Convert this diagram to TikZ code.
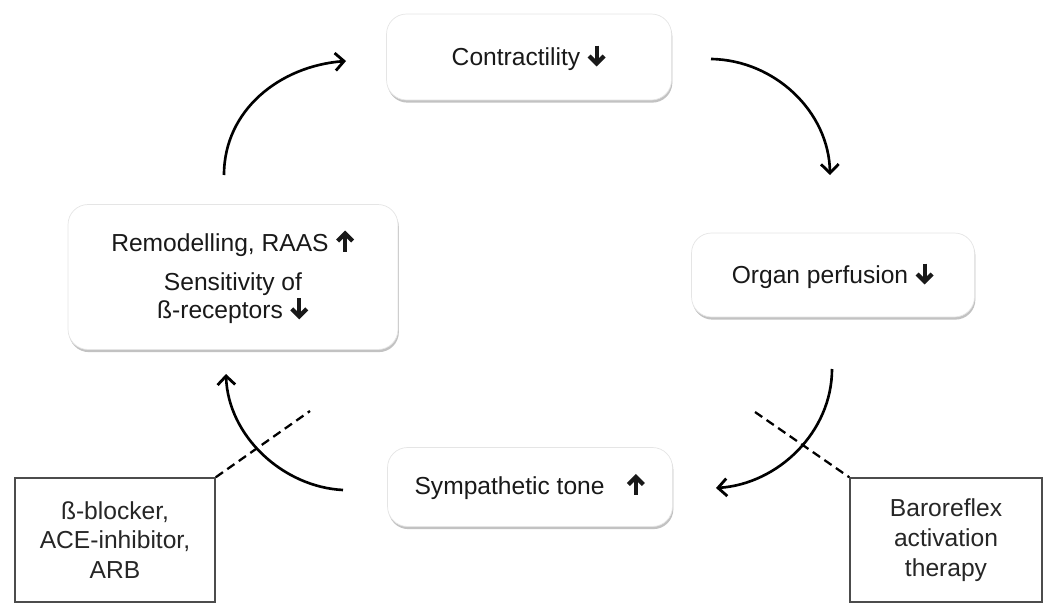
\documentclass[tikz,border=0pt]{standalone}
\usepackage{fontspec}
\setmainfont{Liberation Sans}
\usetikzlibrary{arrows.meta,shadows}

\tikzset{
  glyph/.style={sharp corners, x=1cm, y=1cm, baseline=0.02cm},
  rbox/.style={rounded corners=0.4cm, fill=white, draw=black!10, line width=0.4pt,
    drop shadow={shadow xshift=0.5pt, shadow yshift=-1.5pt, fill=black!40, opacity=0.6},
    font=\fontsize{14}{16}\selectfont, align=center, inner sep=0pt, text=black!90},
  tbox/.style={draw=black!70, line width=0.9pt, fill=white, inner sep=0pt,
    font=\fontsize{14}{17}\selectfont, align=center, text=black!85},
  flow/.style={line width=1.5pt, -{Straight Barb[length=5pt,width=10pt,line width=1.6pt]}},
  cut/.style={line width=1.3pt, dash pattern=on 5pt off 3pt}
}
\newcommand{\dnArw}{\tikz[glyph]{\draw[line width=2.4pt] (0,0.42)--(0,0.08); \draw[line width=2.4pt,line join=miter,miter limit=10] (-0.15,0.21)--(0,0.06)--(0.15,0.21); \useasboundingbox (-0.19,0) rectangle (0.19,0.44);}}
\newcommand{\upArw}{\tikz[glyph]{\draw[line width=2.4pt] (0,0.02)--(0,0.36); \draw[line width=2.4pt,line join=miter,miter limit=10] (-0.15,0.23)--(0,0.38)--(0.15,0.23); \useasboundingbox (-0.19,0) rectangle (0.19,0.44);}}

\begin{document}
\begin{tikzpicture}[x=0.02cm,y=-0.02cm]
\useasboundingbox (0,0) rectangle (1050,605);

\node[rbox, minimum width=5.7cm, minimum height=1.72cm] (con) at (529,57) {Contractility \dnArw};
\node[rbox, minimum width=6.6cm, minimum height=2.9cm] (rem) at (233,277)
  {Remodelling, RAAS \upArw\\[6pt] Sensitivity of\\ ß-receptors \dnArw};
\node[rbox, minimum width=5.66cm, minimum height=1.68cm] (org) at (833,275) {Organ perfusion \dnArw};
\node[rbox, minimum width=5.7cm, minimum height=1.58cm] (sym) at (530,487) {Sympathetic tone\hspace{0.6em} \upArw};

\node[tbox, minimum width=4cm, minimum height=2.48cm] (drug) at (115,540) {ß-blocker,\\ ACE-inhibitor,\\ ARB};
\node[tbox, minimum width=3.84cm, minimum height=2.48cm] (bat) at (946,540) {Baroreflex\\ activation\\ therapy};

\coordinate (a1s) at (224,175); \coordinate (a1e) at (346,61);
\coordinate (a2s) at (711,59);  \coordinate (a2e) at (830,175);
\coordinate (a3s) at (832,369); \coordinate (a3e) at (716,488);
\coordinate (a4s) at (343,490); \coordinate (a4e) at (226,374);

\draw[flow] (a1s) .. controls (224,110) and (280,66) .. (a1e);
\draw[flow] (a2s) .. controls (775,60) and (829,112) .. (a2e);
\draw[flow] (a3s) .. controls (832,432) and (778,484) .. (a3e);
\draw[flow] (a4s) .. controls (283,487) and (228,436) .. (a4e);

\coordinate (d1) at (310,411);
\coordinate (d2) at (755,412);
\draw[cut] (drug.north east) -- (d1);
\draw[cut] (d2) -- (bat.north west);
\end{tikzpicture}
\end{document}
